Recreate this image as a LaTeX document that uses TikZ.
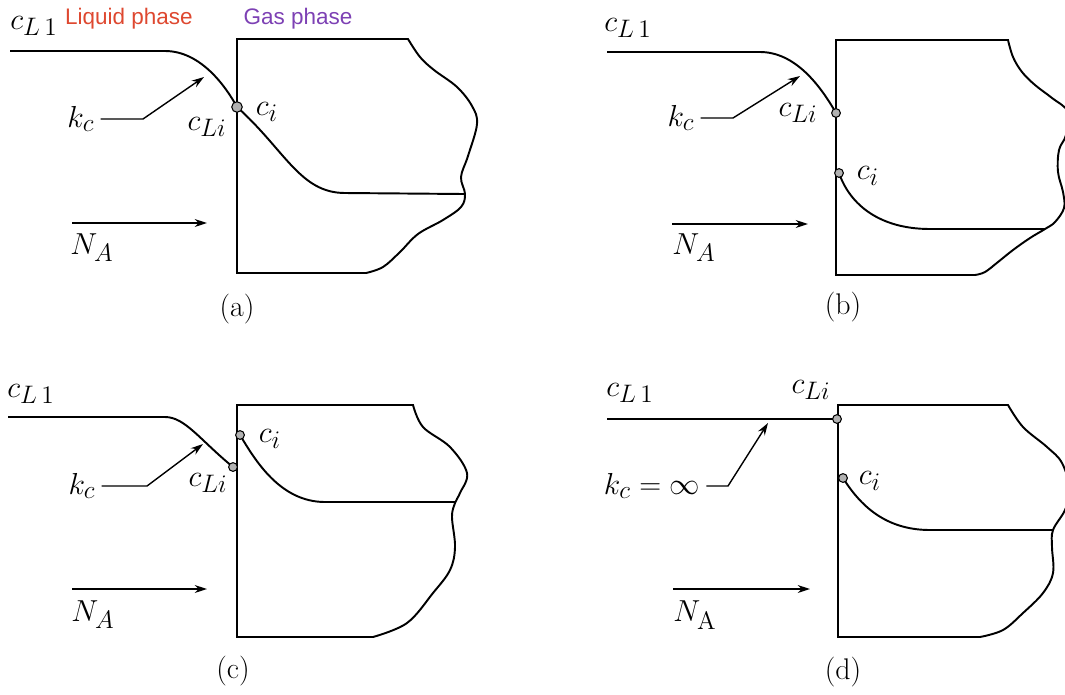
\documentclass[tikz,border=0pt]{standalone}
\usepackage{amsmath}
\usepackage{fontspec}
\usepackage{tikz}
\usetikzlibrary{arrows.meta,positioning}
\newfontfamily\phasefont{Liberation Sans}
\DeclareMathSizes{17.28}{17.28}{14.4}{10}
\definecolor{liquidred}{RGB}{222,72,48}
\definecolor{gaspurple}{RGB}{125,65,180}
\tikzset{
  every picture/.style={font=\fontsize{17.28}{20}\selectfont},
  profile/.style={line width=1.1pt},
  pointer/.style={line width=0.8pt,-{Stealth[length=7pt,width=4.5pt]}},
  blob/.style={circle,draw,fill=gray!60,line width=0.6pt,inner sep=0pt,minimum size=5pt},
  caption/.style={font=\fontsize{17}{20}\selectfont},
  phase/.style={font=\phasefont\fontsize{12.8}{15}\selectfont},
}

\begin{document}
\begin{tikzpicture}[x=0.02cm,y=-0.02cm]
  \useasboundingbox (0,0) rectangle (1065,694);
  % (a) both resistances
  \node[phase,liquidred] (liq) at (129,19) {Liquid phase};
  \node[phase,gaspurple] (gas) at (298,19) {Gas phase};
  \node (a-cl1) at (34,26) {$c_{L\,1}$};
  \draw[profile] (10,51) -- (165,51) .. controls (200,51) and (225,85) .. (237,107)
    .. controls (285,150) and (300,193) .. (345,193) -- (464,194);
  \draw[profile] (237,273) -- (237,39) -- plot[smooth,tension=0.6] coordinates
    {(408,39) (420,57) (434,70) (457,87) (472,106) (477,124) (468,156) (461,177) (465,194)
     (461,207) (443,220) (418,234) (400,252) (383,267) (366,273)}
    -- cycle;
  \node[blob,minimum size=6pt] (a-int) at (237,107) {};
  \node (a-cli) at (207,127) {$c_{Li}$};
  \node (a-ci) at (267,112) {$c_i$};
  \node (a-kc) at (81,119) {$k_c$};
  \coordinate (a-bend) at (143,119);
  \coordinate (a-tip) at (204,77);
  \draw[pointer] (a-kc.east) -- (a-bend) -- (a-tip);
  \coordinate (a-nfrom) at (72,223);
  \coordinate (a-nto) at (207,223);
  \draw[pointer] (a-nfrom) -- (a-nto);
  \node (a-na) at (92,248) {$N_A$};
  \node[caption] (a-cap) at (237,309) {(a)};

  % (b) gas film only
  \node (b-cl1) at (628,28) {$c_{L\,1}$};
  \draw[profile] (607,52) -- (760,52) .. controls (795,52) and (820,85) .. (836,113);
  \draw[profile] (839,173) .. controls (850,205) and (880,229) .. (930,229) -- (1045,229);
  \draw[profile] (836,275) -- (836,40) -- plot[smooth,tension=0.6] coordinates
    {(1008,40) (1013,57) (1022,72) (1035,85) (1052,98) (1068,112) (1066,135) (1059,150)
     (1058,172) (1063,192) (1064,208) (1055,222) (1045,229) (1030,238) (1013,250)
     (998,262) (985,272) (975,275)}
    -- cycle;
  \node[blob] (b-li) at (836,113) {};
  \node[blob] (b-gi) at (839,173) {};
  \node (b-cli) at (798,113) {$c_{Li}$};
  \node (b-ci) at (868,176) {$c_i$};
  \node (b-kc) at (681,118) {$k_c$};
  \coordinate (b-bend) at (733,118);
  \coordinate (b-tip) at (800,76);
  \draw[pointer] (b-kc.east) -- (b-bend) -- (b-tip);
  \coordinate (b-nfrom) at (672,224);
  \coordinate (b-nto) at (808,224);
  \draw[pointer] (b-nfrom) -- (b-nto);
  \node (b-na) at (694,248) {$N_A$};
  \node[caption] (b-cap) at (843,307) {(b)};

  % (c) liquid side dominates
  \node (c-cl1) at (31,394) {$c_{L\,1}$};
  \draw[profile] (8,417) -- (165,417) .. controls (185,417) and (200,440) .. (233,467);
  \draw[profile] (240,435) .. controls (255,460) and (280,502) .. (325,502) -- (455,502);
  \draw[profile] (237,637) -- (237,405) -- plot[smooth,tension=0.6] coordinates
    {(413,405) (423,427) (450,447) (467,473) (460,493) (455,503) (452,517) (455,547)
     (450,570) (433,593) (407,623) (373,637)}
    -- cycle;
  \node[blob] (c-li) at (233,467) {};
  \node[blob] (c-gi) at (240,435) {};
  \node (c-cli) at (208,483) {$c_{Li}$};
  \node (c-ci) at (270,439) {$c_i$};
  \node (c-kc) at (82,486) {$k_c$};
  \coordinate (c-bend) at (147,486);
  \coordinate (c-tip) at (203,444);
  \draw[pointer] (c-kc.east) -- (c-bend) -- (c-tip);
  \coordinate (c-nfrom) at (72,589);
  \coordinate (c-nto) at (207,589);
  \draw[pointer] (c-nfrom) -- (c-nto);
  \node (c-na) at (93,615) {$N_A$};
  \node[caption] (c-cap) at (233,671) {(c)};

  % (d) no liquid resistance
  \node (d-cl1) at (630,393) {$c_{L\,1}$};
  \draw[profile] (607,419) -- (837,419);
  \draw[profile] (843,478) .. controls (860,505) and (885,530) .. (930,530) -- (1053,530);
  \draw[profile] (838,637) -- (838,405) -- plot[smooth,tension=0.6] coordinates
    {(1008,405) (1023,427) (1047,447) (1062,463) (1070,490) (1065,510) (1053,530)
     (1052,547) (1053,573) (1043,593) (1023,613) (1003,630) (980,637)}
    -- cycle;
  \node[blob] (d-li) at (837,419) {};
  \node[blob] (d-gi) at (843,478) {};
  \node (d-cli) at (811,390) {$c_{Li}$};
  \node (d-ci) at (870,481) {$c_i$};
  \node (d-kc) at (652,486) {$k_c = \infty$};
  \coordinate (d-bend) at (728,486);
  \coordinate (d-tip) at (768,423);
  \draw[pointer] (d-kc.east) -- (d-bend) -- (d-tip);
  \coordinate (d-nfrom) at (673,589);
  \coordinate (d-nto) at (810,589);
  \draw[pointer] (d-nfrom) -- (d-nto);
  \node (d-na) at (695,615) {$N_{\mathrm{A}}$};
  \node[caption] (d-cap) at (843,672) {(d)};
\end{tikzpicture}
\end{document}
